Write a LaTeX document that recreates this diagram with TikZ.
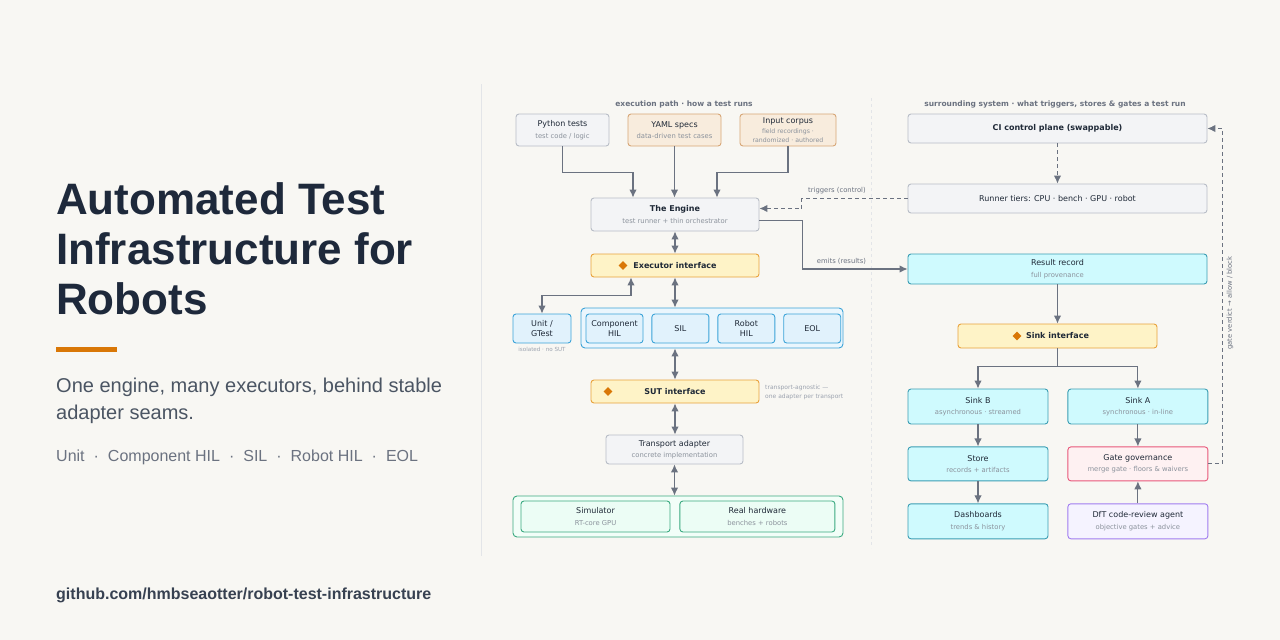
\documentclass[tikz,border=0pt]{standalone}
\usepackage{fontspec}
\setmainfont{Liberation Sans}
\newfontfamily\diagfont{DejaVu Sans}
\usepackage{xcolor}
\usepackage{tikz}
\usetikzlibrary{arrows.meta,positioning,calc,shapes.geometric}
\definecolor{pagebg}{HTML}{F8F7F3}
\definecolor{titleink}{HTML}{1E293B}
\definecolor{tagink}{HTML}{4B5563}
\definecolor{listink}{HTML}{6B7280}
\definecolor{repoink}{HTML}{374151}
\definecolor{accent}{HTML}{D97706}
\definecolor{ink}{HTML}{1F2937}
\definecolor{subgray}{HTML}{8B929C}
\definecolor{headgray}{HTML}{6B7280}
\definecolor{notegray}{HTML}{9CA3AF}
\definecolor{wire}{HTML}{6B7280}
\definecolor{rulegray}{HTML}{E3E5E8}
\definecolor{graybd}{HTML}{B8BDC6}
\definecolor{grayfill}{HTML}{F3F4F6}
\definecolor{sandbd}{HTML}{D6A676}
\definecolor{sandfill}{HTML}{F8ECDD}
\definecolor{ifacebd}{HTML}{E9A23B}
\definecolor{ifacefill}{HTML}{FEF3C7}
\definecolor{gemorange}{HTML}{D97706}
\definecolor{execbd}{HTML}{3BA3D8}
\definecolor{execfill}{HTML}{E1F2FC}
\definecolor{sinkbd}{HTML}{3A9DB3}
\definecolor{sinkfill}{HTML}{CFFAFE}
\definecolor{gatebd}{HTML}{E8577A}
\definecolor{gatefill}{HTML}{FEF1F2}
\definecolor{agentbd}{HTML}{A07CF0}
\definecolor{agentfill}{HTML}{F5F3FF}
\definecolor{hwbd}{HTML}{3BAA80}
\definecolor{hwfill}{HTML}{ECFDF5}
\newcommand{\subline}[1]{{\fontsize{6.8}{8}\selectfont\color{subgray}#1}}
\newcommand{\subsmall}[1]{{\fontsize{6.2}{7}\selectfont\color{subgray}#1}}
\newcommand{\dotsep}{\hspace{9pt}·\hspace{9pt}}
\tikzset{
  box/.style={rounded corners=3pt, line width=0.9pt, align=center, inner sep=2pt,
    text=ink, font=\diagfont\fontsize{8}{11.5}\selectfont},
  plainbox/.style={box, draw=graybd, fill=grayfill},
  sourcebox/.style={box, draw=sandbd, fill=sandfill},
  ifacebox/.style={box, draw=ifacebd, fill=ifacefill,
    font=\diagfont\bfseries\fontsize{8}{10}\selectfont},
  execbox/.style={box, draw=execbd, fill=execfill, font=\diagfont\fontsize{8}{9.5}\selectfont},
  execgroup/.style={draw=execbd, fill=execfill!70, rounded corners=4pt, line width=0.9pt},
  sinkbox/.style={box, draw=sinkbd, fill=sinkfill},
  gatebox/.style={box, draw=gatebd, fill=gatefill},
  agentbox/.style={box, draw=agentbd, fill=agentfill},
  hwbox/.style={box, draw=hwbd, fill=hwfill},
  hwgroup/.style={draw=hwbd, fill=hwfill!70, rounded corners=4pt, line width=0.9pt},
  gem/.style={diamond, fill=gemorange, inner sep=0pt, minimum size=9pt},
  flowarrow/.style={-{Latex[length=8pt,width=7.5pt]}, line width=1.1pt, draw=wire},
  biarrow/.style={{Latex[length=8pt,width=7.5pt]}-{Latex[length=8pt,width=7.5pt]}, line width=1.1pt, draw=wire},
  ctrlarrow/.style={flowarrow, dash pattern=on 4pt off 3pt},
  divider/.style={draw=rulegray, line width=0.9pt},
  sectionhead/.style={font=\diagfont\bfseries\fontsize{7.5}{9}\selectfont, text=headgray},
  edgenote/.style={font=\diagfont\fontsize{6.8}{8}\selectfont, text=headgray, inner sep=1pt},
  smallnote/.style={font=\diagfont\fontsize{6}{9}\selectfont, text=notegray, align=left, inner sep=0pt},
  titletext/.style={anchor=north west, inner sep=0pt, align=left, text=titleink,
    font=\bfseries\fontsize{44}{50}\selectfont},
  tagtext/.style={anchor=north west, inner sep=0pt, align=left, text=tagink,
    font=\fontsize{20}{27}\selectfont},
  listtext/.style={anchor=north west, inner sep=0pt, text=listink, font=\fontsize{16}{19}\selectfont},
  repotext/.style={anchor=north west, inner sep=0pt, text=repoink, font=\bfseries\fontsize{16}{19}\selectfont}
}

\begin{document}
\begin{tikzpicture}[x=1pt,y=-1pt,node distance=8pt]
  \fill[pagebg] (0,0) rectangle (1280,640);
  \useasboundingbox (0,0) rectangle (1280,640);

  % left panel
  \node[titletext] (title) at (56,182) {Automated Test\\Infrastructure for\\Robots};
  \fill[accent] (56,347) rectangle (117,351.5);
  \node[tagtext] (tagline) at (56,378) {One engine, many executors, behind stable\\adapter seams.};
  \node[listtext] (tiers) at (56,450) {Unit\dotsep Component HIL\dotsep SIL\dotsep Robot HIL\dotsep EOL};
  \node[repotext] (repo) at (56,588) {github.com/hmbseaotter/robot-test-infrastructure};

  % dividers
  \draw[divider] (481,84) -- (481,556);
  \draw[divider, dash pattern=on 3pt off 3pt] (871,98) -- (871,548);

  % execution path
  \node[sectionhead] (exechead) at (684,104.5) {execution path · how a test runs};
  \node[plainbox, minimum width=93pt, minimum height=32pt] (python) at (562.5,130)
    {Python tests\\\subline{test code / logic}};
  \node[sourcebox, minimum width=93pt, minimum height=32pt] (yaml) at (674.5,130)
    {YAML specs\\\subline{data-driven test cases}};
  \node[sourcebox, minimum width=96pt, minimum height=32pt] (corpus) at (788,130)
    {Input corpus\\[-1pt]\subsmall{field recordings ·}\\[-2.5pt]\subsmall{randomized · authored}};
  \node[plainbox, minimum width=168pt, minimum height=33pt] (engine) at (675,214.5)
    {\textbf{The Engine}\\\subline{test runner + thin orchestrator}};
  \node[ifacebox, minimum width=168pt, minimum height=23pt] (executor) at (675,265.5) {Executor interface};
  \node[gem] (execgem) at (623,265.5) {};

  \node[execbox, minimum width=58pt, minimum height=29pt] (unit) at (542,328.5) {Unit /\\GTest};
  \node[smallnote, anchor=center, font=\diagfont\fontsize{5.6}{7}\selectfont] (unitnote) at (542,349.5) {isolated · no SUT};
  \node[execgroup, minimum width=262pt, minimum height=40pt] (execrow) at (712,328) {};
  \node[execbox, minimum width=57pt, minimum height=29pt] (comphil) at (614.5,328.5) {Component\\HIL};
  \node[execbox, minimum width=57pt, minimum height=29pt, right=of comphil] (sil) {SIL};
  \node[execbox, minimum width=57pt, minimum height=29pt, right=of sil] (robothil) {Robot\\HIL};
  \node[execbox, minimum width=57pt, minimum height=29pt, right=of robothil] (eol) {EOL};

  \node[ifacebox, minimum width=168pt, minimum height=23pt] (sut) at (675,391.5) {SUT interface};
  \node[gem] (sutgem) at (608,391.5) {};
  \node[smallnote, anchor=west] (sutnote) at (765,392.5) {transport-agnostic —\\one adapter per transport};
  \node[plainbox, minimum width=137pt, minimum height=29pt] (transport) at (674.5,449.5)
    {Transport adapter\\\subline{concrete implementation}};
  \node[hwgroup, minimum width=330pt, minimum height=41pt] (targets) at (678,516.5) {};
  \node[hwbox, minimum width=149pt, minimum height=31pt] (simulator) at (595.5,516.5)
    {Simulator\\\subline{RT-core GPU}};
  \node[hwbox, minimum width=155pt, minimum height=31pt, right=9pt of simulator] (realhw)
    {Real hardware\\\subline{benches + robots}};

  \draw[flowarrow] (python.south) -- ++(0,26) -| ([xshift=-42pt]engine.north);
  \draw[flowarrow] (yaml.south) -- (yaml.south |- engine.north);
  \draw[flowarrow] (corpus.south) -- ++(0,26) -| ([xshift=42pt]engine.north);
  \draw[biarrow] (engine) -- (executor);
  \draw[biarrow] ([xshift=-44pt]executor.south) -- ++(0,18) -| (unit.north);
  \draw[biarrow] (executor.south) -- (executor.south |- execrow.north);
  \draw[biarrow] (execrow.south -| sut.north) -- (sut.north);
  \draw[biarrow] (sut.south) -- (sut.south |- transport.north);
  \draw[biarrow] (transport.south) -- (transport.south |- targets.north);

  % surrounding system
  \node[sectionhead] (syshead) at (1055,104.5) {surrounding system · what triggers, stores \& gates a test run};
  \node[plainbox, minimum width=299pt, minimum height=29pt] (ci) at (1057.5,128.5)
    {\textbf{CI control plane (swappable)}};
  \node[plainbox, minimum width=299pt, minimum height=29pt] (runner) at (1057.5,198.5)
    {Runner tiers: CPU · bench · GPU · robot};
  \node[sinkbox, minimum width=299pt, minimum height=30pt] (result) at (1057.5,269)
    {Result record\\\subline{full provenance}};
  \node[ifacebox, minimum width=199pt, minimum height=24pt] (sinkif) at (1057.5,336) {Sink interface};
  \node[gem] (sinkgem) at (1017,336) {};

  \node[sinkbox, minimum width=140pt, minimum height=35pt] (sinkb) at (978,406.5)
    {Sink B\\\subline{asynchronous · streamed}};
  \node[sinkbox, minimum width=140pt, minimum height=35pt, right=19pt of sinkb] (sinka)
    {Sink A\\\subline{synchronous · in-line}};
  \node[sinkbox, minimum width=140pt, minimum height=34pt, below=22pt of sinkb] (store)
    {Store\\\subline{records + artifacts}};
  \node[gatebox, minimum width=140pt, minimum height=34pt, right=19pt of store] (gate)
    {Gate governance\\\subline{merge gate · floors \& waivers}};
  \node[sinkbox, minimum width=140pt, minimum height=35pt, below=22pt of store] (dashboards)
    {Dashboards\\\subline{trends \& history}};
  \node[agentbox, minimum width=140pt, minimum height=35pt, right=19pt of dashboards] (agent)
    {DfT code-review agent\\\subline{objective gates + advice}};

  \draw[ctrlarrow] (ci) -- (runner);
  \draw[ctrlarrow] (runner.west) -- ++(-106,0) |- ([yshift=6pt]engine.east);
  \node[edgenote] (trigger) at (837,190.5) {triggers (control)};
  \draw[flowarrow] ([yshift=-6pt]engine.east) -- ++(43,0) |- (result.west);
  \node[edgenote] (emits) at (841.5,261) {emits (results)};
  \draw[flowarrow] (result) -- (sinkif);
  \draw[flowarrow] (sinkif.south) -- ++(0,18) -| (sinkb.north);
  \draw[flowarrow] (sinkif.south) -- ++(0,18) -| (sinka.north);
  \draw[flowarrow] (sinkb) -- (store);
  \draw[flowarrow] (store) -- (dashboards);
  \draw[flowarrow] (sinka) -- (gate);
  \draw[flowarrow] (agent) -- (gate);
  \draw[ctrlarrow] (gate.east) -- ++(14,0) |- (ci.east);
  \node[edgenote, rotate=90] (verdict) at (1230,303) {gate verdict → allow / block};
\end{tikzpicture}
\end{document}
